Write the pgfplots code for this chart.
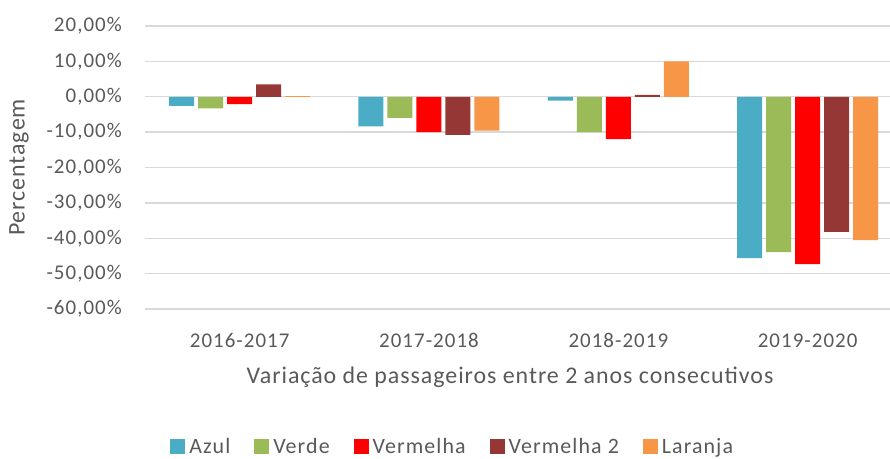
\documentclass[border=0pt]{standalone}
\usepackage{fontspec}
\setmainfont{Carlito}
\newfontfamily\tickfont[LetterSpace=5]{Carlito}
\newfontfamily\labelfont[LetterSpace=4]{Carlito}
\newfontfamily\legfont[LetterSpace=5]{Carlito}
\usepackage{pgfplots}
\pgfplotsset{compat=1.18}

\definecolor{azul}{HTML}{4BACC6}
\definecolor{verde}{HTML}{9BBB59}
\definecolor{vermelha}{HTML}{FF0000}
\definecolor{vermelhadois}{HTML}{953735}
\definecolor{laranja}{HTML}{F79646}
\definecolor{txt}{HTML}{595959}
\definecolor{grelha}{HTML}{D9D9D9}

\begin{document}
\begin{tikzpicture}
\begin{axis}[
    name=ax,
    scale only axis,
    width=745bp, height=283bp,
    ybar=4bp, bar width=25bp,
    xmin=-0.5, xmax=3.435,
    ymin=-60, ymax=20,
    ytick={-60,-50,...,20},
    xtick={0,1,2,3},
    xticklabels={2016-2017,2017-2018,2018-2019,2019-2020},
    major tick length=0pt,
    axis line style={draw=none},
    ymajorgrids, grid style={grelha, line width=1.3bp},
    /pgf/number format/assume math mode=true,
    yticklabel={\pgfmathprintnumber[fixed,fixed zerofill,precision=2,use comma]{\tick}\%},
    ticklabel style={font=\tickfont\fontsize{21}{24}\selectfont, text=txt, inner sep=0pt},
    xticklabel style={anchor=base, yshift=-38bp},
    yticklabel style={anchor=east, xshift=-23bp},
    ylabel={Percentagem},
    ylabel style={font=\labelfont\fontsize{24}{28}\selectfont, text=txt, at={(axis description cs:-0.169,0.5)}, anchor=center},
    xlabel={Variação de passageiros entre 2 anos consecutivos},
    xlabel style={font=\labelfont\fontsize{24}{28}\selectfont, text=txt, at={(axis description cs:0.49,0)}, yshift=-74bp, anchor=base},
    legend columns=5,
    legend style={draw=none, font=\legfont\fontsize{22}{25}\selectfont, text=txt,
        at={(axis description cs:0.413,-0.486)}, anchor=center,
        /tikz/every odd column/.append style={column sep=2bp},
        /tikz/every even column/.append style={column sep=22bp}},
    legend image code/.code={\fill[#1] (0bp,-7.5bp) rectangle (15bp,7.5bp);},
]
\addplot[fill=azul, draw=none] coordinates {(0,-2.6) (1,-8.4) (2,-1.1) (3,-45.6)};
\addlegendentry{Azul}
\addplot[fill=verde, draw=none] coordinates {(0,-3.3) (1,-6.0) (2,-10.0) (3,-43.9)};
\addlegendentry{Verde}
\addplot[fill=vermelha, draw=none] coordinates {(0,-2.1) (1,-10.0) (2,-12.0) (3,-47.3)};
\addlegendentry{Vermelha}
\addplot[fill=vermelhadois, draw=none] coordinates {(0,3.5) (1,-10.8) (2,0.5) (3,-38.2)};
\addlegendentry{Vermelha 2}
\addplot[fill=laranja, draw=none] coordinates {(0,0.2) (1,-9.6) (2,10.0) (3,-40.5)};
\addlegendentry{Laranja}
\end{axis}
\pgfresetboundingbox
\path (ax.south west) ++(-145bp,-150bp) rectangle ++(890bp,459bp);
\end{tikzpicture}
\end{document}
